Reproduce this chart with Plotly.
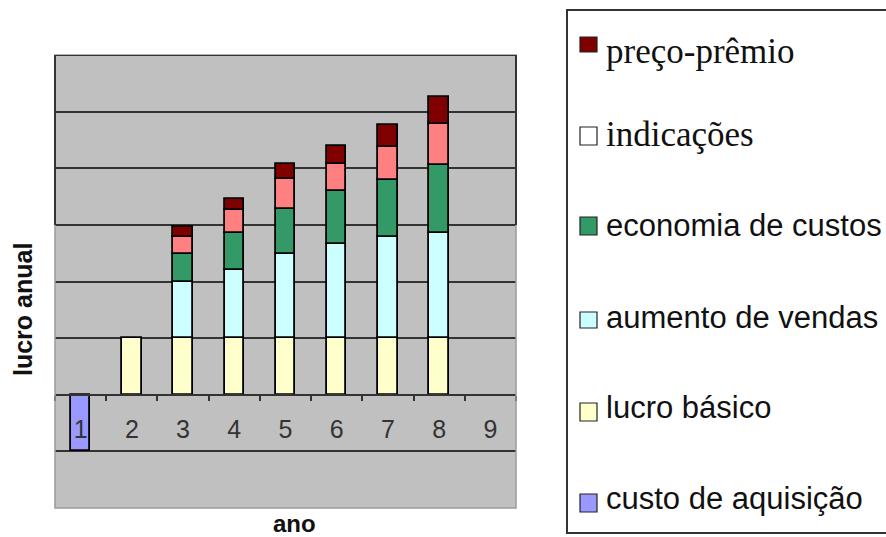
import plotly.graph_objects as go

# ---------------- data ----------------
years = ["1", "2", "3", "4", "5", "6", "7", "8", "9"]
custo_aquisicao = [-1, None, None, None, None, None, None, None, None]
lucro_basico = [None, 1, 1, 1, 1, 1, 1, 1, None]
aumento_vendas = [None, None, 1.00, 1.21, 1.49, 1.67, 1.78, 1.85, None]
economia_custos = [None, None, 0.48, 0.65, 0.79, 0.93, 1.02, 1.21, None]
indicacoes = [None, None, 0.31, 0.40, 0.53, 0.47, 0.58, 0.72, None]
preco_premio = [None, None, 0.18, 0.19, 0.26, 0.33, 0.38, 0.48, None]

series_names = ["custo de aquisição", "lucro básico", "aumento de vendas",
                "economia de custos", "indicações", "preço-prêmio"]
series_values = [custo_aquisicao, lucro_basico, aumento_vendas,
                 economia_custos, indicacoes, preco_premio]
bar_colors = ["#9999FF", "#FFFFCC", "#CCFFFF", "#339966", "#FF8080", "#800000"]

# legend (top to bottom) as drawn in the reference
legend_labels = ["preço-prêmio", "indicações", "economia de custos",
                 "aumento de vendas", "lucro básico", "custo de aquisição"]
legend_swatches = ["#800000", "#FFFFFF", "#339966", "#CCFFFF", "#FFFFCC", "#9999FF"]
legend_serif = [True, True, False, False, False, False]

y_title = "lucro anual"
x_title = "ano"

# ---------------- layout geometry (pixels) ----------------
W, H = 886, 537
L, R, T, B = 55, 516, 55, 508
PW, PH = R - L, B - T


def px(x):
    return (x - L) / PW


def py(y):
    return (B - y) / PH


fig = go.Figure()
for name, vals, col in zip(series_names, series_values, bar_colors):
    fig.add_trace(go.Bar(
        x=years, y=vals, name=name, width=0.38,
        marker=dict(color=col, line=dict(color="#000000", width=1.8)),
        showlegend=False,
    ))

shapes = []
annotations = []

# light plot border + dark partial borders
shapes.append(dict(type="rect", xref="paper", yref="paper", x0=0, x1=1, y0=0, y1=1,
                   line=dict(color="#9a9a9a", width=1.5), layer="above"))
for xx in (0, 1):
    shapes.append(dict(type="line", xref="paper", yref="y", x0=xx, x1=xx, y0=3, y1=6,
                       line=dict(color="#333333", width=2), layer="above"))
shapes.append(dict(type="line", xref="paper", yref="y", x0=0, x1=1, y0=6, y1=6,
                   line=dict(color="#333333", width=2), layer="above"))

# legend box
shapes.append(dict(type="rect", xref="paper", yref="paper",
                   x0=px(567), x1=px(900), y0=py(533), y1=py(10),
                   line=dict(color="#333333", width=2), fillcolor="rgba(0,0,0,0)"))
baselines = [63, 145, 235, 327, 417, 508]
swatch_boxes = [(37, 52), (127, 145), (217, 235), (312, 328), (403, 421), (494, 512)]
for lab, sw, serif, base, (s0, s1) in zip(legend_labels, legend_swatches, legend_serif,
                                          baselines, swatch_boxes):
    if serif:
        fsize, fam = 35, "Liberation Serif"
        ty = base - 11
    else:
        fsize, fam = 31, "Liberation Sans"
        ty = base - 10
    shapes.append(dict(type="rect", xref="paper", yref="paper",
                       x0=px(580), x1=px(597), y0=py(s1), y1=py(s0),
                       line=dict(color="#222222", width=1.2), fillcolor=sw))
    annotations.append(dict(text=lab, xref="paper", yref="paper", x=px(604), y=py(ty),
                            xanchor="left", yanchor="middle", showarrow=False,
                            font=dict(family=fam, size=fsize, color="#111111")))

# axis titles
annotations.append(dict(text="<b>" + y_title + "</b>", xref="paper", yref="paper",
                        x=px(23), y=py(310), xanchor="center", yanchor="middle",
                        textangle=-90, showarrow=False,
                        font=dict(family="Liberation Sans", size=25, color="#111111")))
annotations.append(dict(text="<b>" + x_title + "</b>", xref="paper", yref="paper",
                        x=px(294), y=py(523), xanchor="center", yanchor="middle",
                        showarrow=False,
                        font=dict(family="Liberation Sans", size=24, color="#111111")))

fig.update_layout(
    width=W, height=H,
    margin=dict(l=L, r=W - R, t=T, b=H - B, pad=0),
    paper_bgcolor="#FFFFFF", plot_bgcolor="#C0C0C0",
    barmode="relative", bargap=0,
    shapes=shapes, annotations=annotations,
    showlegend=False,
    xaxis=dict(type="category", categoryorder="array", categoryarray=years,
               range=[-0.5, 8.5], anchor="free", position=0.25,
               showline=True, linecolor="#333333", linewidth=2,
               ticks="outside", ticklen=5, tickwidth=1.5, tickcolor="#333333",
               tickson="boundaries", showgrid=False, zeroline=False,
               ticklabelstandoff=12,
               tickfont=dict(family="Liberation Sans", size=25, color="#333333")),
    yaxis=dict(range=[-2, 6], dtick=1, showticklabels=False, ticks="",
               showgrid=True, gridcolor="#333333", gridwidth=2,
               zeroline=False, showline=False),
)

fig.write_html("out.html")
